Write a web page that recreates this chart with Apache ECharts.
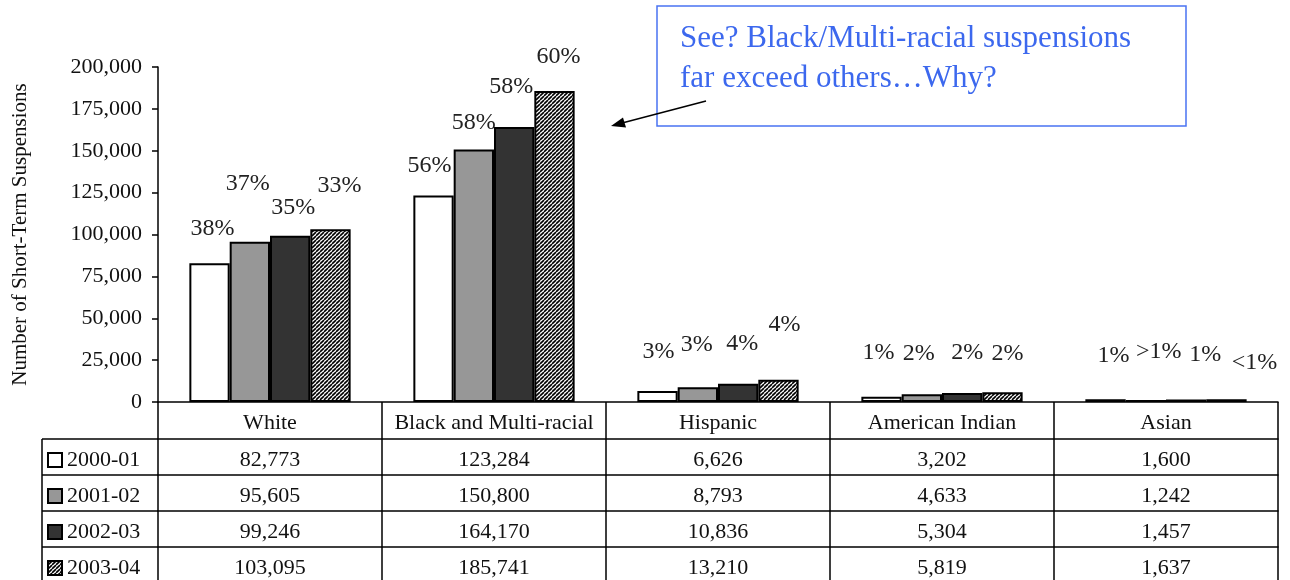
<!DOCTYPE html>
<html>
<head>
<meta charset="utf-8">
<script src="https://cdn.jsdelivr.net/npm/echarts@6/dist/echarts.min.js"></script>
<style>
  html, body { margin: 0; padding: 0; background: #fff; }
  #chart { width: 1290px; height: 580px; }
</style>
</head>
<body>
<div id="chart"></div>
<script>
// Short-term suspensions by group and school year
const groups = ['White', 'Black and Multi-racial', 'Hispanic', 'American Indian', 'Asian'];
const years = ['2000-01', '2001-02', '2002-03', '2003-04'];

const susp2000 = [82773, 123284, 6626, 3202, 1600];
const susp2001 = [95605, 150800, 8793, 4633, 1242];
const susp2002 = [99246, 164170, 10836, 5304, 1457];
const susp2003 = [103095, 185741, 13210, 5819, 1637];

// Share of all suspensions in each year
const share2000 = ['38%', '56%', '3%', '1%', '1%'];
const share2001 = ['37%', '58%', '3%', '2%', '>1%'];
const share2002 = ['35%', '58%', '4%', '2%', '1%'];
const share2003 = ['33%', '60%', '4%', '2%', '<1%'];

const yMin = 0, yMax = 200000, yStep = 25000;

const yTitle = 'Number of Short-Term Suspensions';
const note = 'See? Black/Multi-racial suspensions\nfar exceed others\u2026Why?';

// ---- layout: small nudges [dx, dy] so the share labels stagger above the bars
const nudge2000 = [[3, -18], [-4, -13], [1, -22], [-3, -27], [8, -27]];
const nudge2001 = [[-2, -41], [0, -10], [-1, -26], [-3, -24], [13, -31]];
const nudge2002 = [[3, -11], [-3, -23], [4, -23], [5, -23], [19, -28]];
const nudge2003 = [[9, -27], [4, -17], [6, -38], [5, -22], [28, -20]];

const serif = "'Liberation Serif', 'Times New Roman', serif";
const ink = '#111';

// diagonal hatch fill for the last year
function hatchTile() {
  const c = document.createElement('canvas');
  c.width = 4; c.height = 4;
  const g = c.getContext('2d');
  g.fillStyle = '#fff';
  g.fillRect(0, 0, 4, 4);
  g.strokeStyle = '#000';
  g.lineWidth = 1.6;
  for (let k = -1; k <= 1; k++) {
    g.beginPath();
    g.moveTo(k * 4, 4);
    g.lineTo(k * 4 + 4, 0);
    g.stroke();
  }
  return c;
}

const fills = ['#ffffff', '#979797', '#333333', { image: hatchTile(), repeat: 'repeat' }];
const seriesValues = [susp2000, susp2001, susp2002, susp2003];
const seriesShares = [share2000, share2001, share2002, share2003];
const seriesNudges = [nudge2000, nudge2001, nudge2002, nudge2003];

const fmt = v => v.toLocaleString('en-US');

const series = years.map((yr, s) => ({
  name: yr,
  type: 'bar',
  xAxisIndex: 0,
  barGap: '0%',
  barCategoryGap: '28%',
  itemStyle: { color: fills[s], borderColor: '#000', borderWidth: 2 },
  label: {
    show: true,
    position: 'top',
    distance: 5,
    fontFamily: serif,
    fontSize: 24,
    color: '#222',
    formatter: p => seriesShares[s][p.dataIndex]
  },
  data: seriesValues[s].map((v, i) => ({ value: v, label: { offset: seriesNudges[s][i] } }))
}));

const lineStyle = { color: '#000', width: 1.5 };

// header row (group names) plus one axis per table row carrying that year's counts
const xAxes = [{
  type: 'category',
  data: groups,
  position: 'bottom',
  axisLine: { show: true, lineStyle },
  axisTick: { show: true, interval: 0, length: 178, lineStyle },
  axisLabel: { interval: 0, margin: 10, fontFamily: serif, fontSize: 22, color: ink }
}].concat(seriesValues.map((row, r) => ({
  type: 'category',
  data: groups,
  position: 'bottom',
  offset: 37 + 36 * r,
  axisLine: { show: true, lineStyle },
  axisTick: { show: false },
  axisLabel: {
    interval: 0, margin: 10, fontFamily: serif, fontSize: 22, color: ink,
    formatter: (v, i) => fmt(row[i])
  }
})));

const chart = echarts.init(document.getElementById('chart'), null, { renderer: 'canvas' });
chart.setOption({
  animation: false,
  backgroundColor: '#fff',
  grid: { left: 158, right: 12, top: 67, bottom: 178, containLabel: false },
  legend: {
    orient: 'vertical',
    left: 47,
    top: 449,
    height: 140,
    padding: 0,
    itemWidth: 14,
    itemHeight: 14,
    itemGap: 14,
    icon: 'rect',
    itemStyle: { borderColor: '#000', borderWidth: 2 },
    textStyle: { fontFamily: serif, fontSize: 22, color: ink, padding: [0, 0, 0, 0] },
    data: years
  },
  xAxis: xAxes,
  yAxis: {
    type: 'value',
    min: yMin,
    max: yMax,
    interval: yStep,
    name: yTitle,
    nameLocation: 'middle',
    nameRotate: 90,
    nameGap: 127,
    nameTextStyle: { fontFamily: serif, fontSize: 21, color: ink },
    axisLine: { show: true, lineStyle },
    axisTick: { show: true, length: 6, lineStyle },
    splitLine: { show: false },
    axisLabel: { margin: 16, fontFamily: serif, fontSize: 22, color: ink, formatter: v => fmt(v) }
  },
  series,
  graphic: [
    // frame of the legend column of the table
    { type: 'line', shape: { x1: 42, y1: 439, x2: 42, y2: 580 }, style: { stroke: '#000', lineWidth: 1.5 } },
    { type: 'line', shape: { x1: 42, y1: 439, x2: 158, y2: 439 }, style: { stroke: '#000', lineWidth: 1.5 } },
    { type: 'line', shape: { x1: 42, y1: 475, x2: 158, y2: 475 }, style: { stroke: '#000', lineWidth: 1.5 } },
    { type: 'line', shape: { x1: 42, y1: 511, x2: 158, y2: 511 }, style: { stroke: '#000', lineWidth: 1.5 } },
    { type: 'line', shape: { x1: 42, y1: 547, x2: 158, y2: 547 }, style: { stroke: '#000', lineWidth: 1.5 } },
    // call-out box with arrow
    { type: 'rect', shape: { x: 657, y: 6, width: 529, height: 120 },
      style: { fill: '#fff', stroke: '#4a73f2', lineWidth: 1.5 } },
    { type: 'text', x: 680, y: 19,
      style: { text: note, fontFamily: serif, fontSize: 31, fill: '#3c68ee', lineHeight: 40, verticalAlign: 'top' } },
    { type: 'line', shape: { x1: 706, y1: 101, x2: 624, y2: 122.5 }, style: { stroke: '#000', lineWidth: 1.5 } },
    { type: 'polygon', shape: { points: [[611, 126], [626, 127.5], [623, 117.5]] }, style: { fill: '#000' } }
  ]
});
</script>
</body>
</html>
